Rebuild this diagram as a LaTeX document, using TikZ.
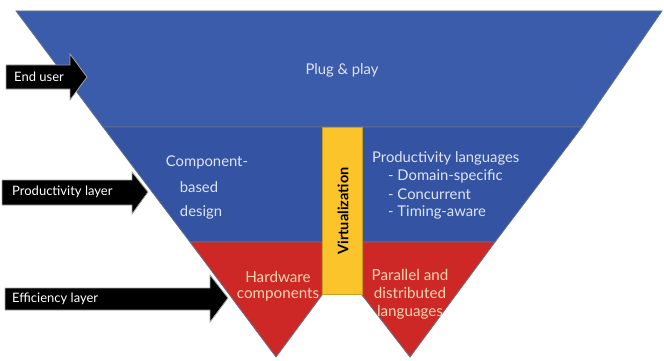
\documentclass[tikz,border=0pt]{standalone}
\usepackage{fontspec}
\setmainfont{Lato}
\definecolor{bandblue}{RGB}{58,92,170}
\definecolor{bandblue2}{RGB}{52,84,163}
\definecolor{bandred}{RGB}{206,40,38}
\definecolor{bandyellow}{RGB}{250,196,42}
\definecolor{bluetext}{RGB}{222,228,242}
\definecolor{peach}{RGB}{248,214,178}
\definecolor{edgegray}{RGB}{100,112,135}
\tikzset{
  x=1pt, y=-1pt,
  band/.style={draw=edgegray, line width=0.8pt, line join=miter},
  bluelbl/.style={text=bluetext, font=\fontsize{14.8}{16}\selectfont, inner sep=0pt},
  redlbl/.style={text=peach, font=\fontsize{15.2}{16}\selectfont, inner sep=0pt},
  arrowbody/.style={fill=black, draw=gray!70, line width=0.8pt, line join=miter},
  arrowlbl/.style={text=white, font=\fontsize{13}{14}\selectfont, inner sep=0pt, anchor=west}
}
\begin{document}
\begin{tikzpicture}
\useasboundingbox (0,0) rectangle (664,361);
% bands
\path[band, fill=bandblue] (16,11) -- (662,11) -- (582,127) -- (103,127) -- cycle;
\path[band, fill=bandblue2] (103,127) -- (582,127) -- (495,242) -- (190,242) -- cycle;
\path[band, fill=bandred] (190,242) -- (322,242) -- (322,295) -- (276,357) -- cycle;
\path[band, fill=bandred] (362,242) -- (495,242) -- (410,357) -- (362,295) -- cycle;
\path[fill=bandyellow, draw=bandyellow!80!black, line width=0.5pt] (322,127) rectangle (362,294);
% band texts
\node[bluelbl] (plug) at (342,70) {Plug \& play};
\node[bluelbl] (comp1) at (207,162) {Component-};
\node[bluelbl] (comp2) at (199,187) {based};
\node[bluelbl] (comp3) at (201,212) {design};
\node[inner sep=0pt, rotate=90, font=\fontsize{14.5}{16}\selectfont\bfseries] (virt) at (343,211) {Virtualization};
\node[bluelbl, anchor=west] (pl) at (372,158) {Productivity languages};
\node[bluelbl, anchor=west] (pl1) at (388,176) {- Domain-specific};
\node[bluelbl, anchor=west] (pl2) at (388,194) {- Concurrent};
\node[bluelbl, anchor=west] (pl3) at (388,212) {- Timing-aware};
\node[redlbl] (hw1) at (278,277) {Hardware};
\node[redlbl] (hw2) at (278,295) {components};
\node[redlbl] (pd1) at (410,275) {Parallel and};
\node[redlbl] (pd2) at (410,293) {distributed};
\node[redlbl] (pd3) at (410,312) {languages};
% side arrows
\path[arrowbody] (6,65) -- (70,65) -- (70,54) -- (87,77) -- (70,100) -- (70,89) -- (6,89) -- cycle;
\node[arrowlbl] (enduser) at (14,77) {End user};
\path[arrowbody] (2,180) -- (132,180) -- (132,172) -- (148,192) -- (132,214) -- (132,205) -- (2,205) -- cycle;
\node[arrowlbl] (prodlayer) at (12,192) {Productivity layer};
\path[arrowbody] (5,288) -- (210,288) -- (210,275) -- (228,298) -- (210,322) -- (210,310) -- (5,310) -- cycle;
\node[arrowlbl] (efflayer) at (12,299) {Efficiency layer};
\end{tikzpicture}
\end{document}
